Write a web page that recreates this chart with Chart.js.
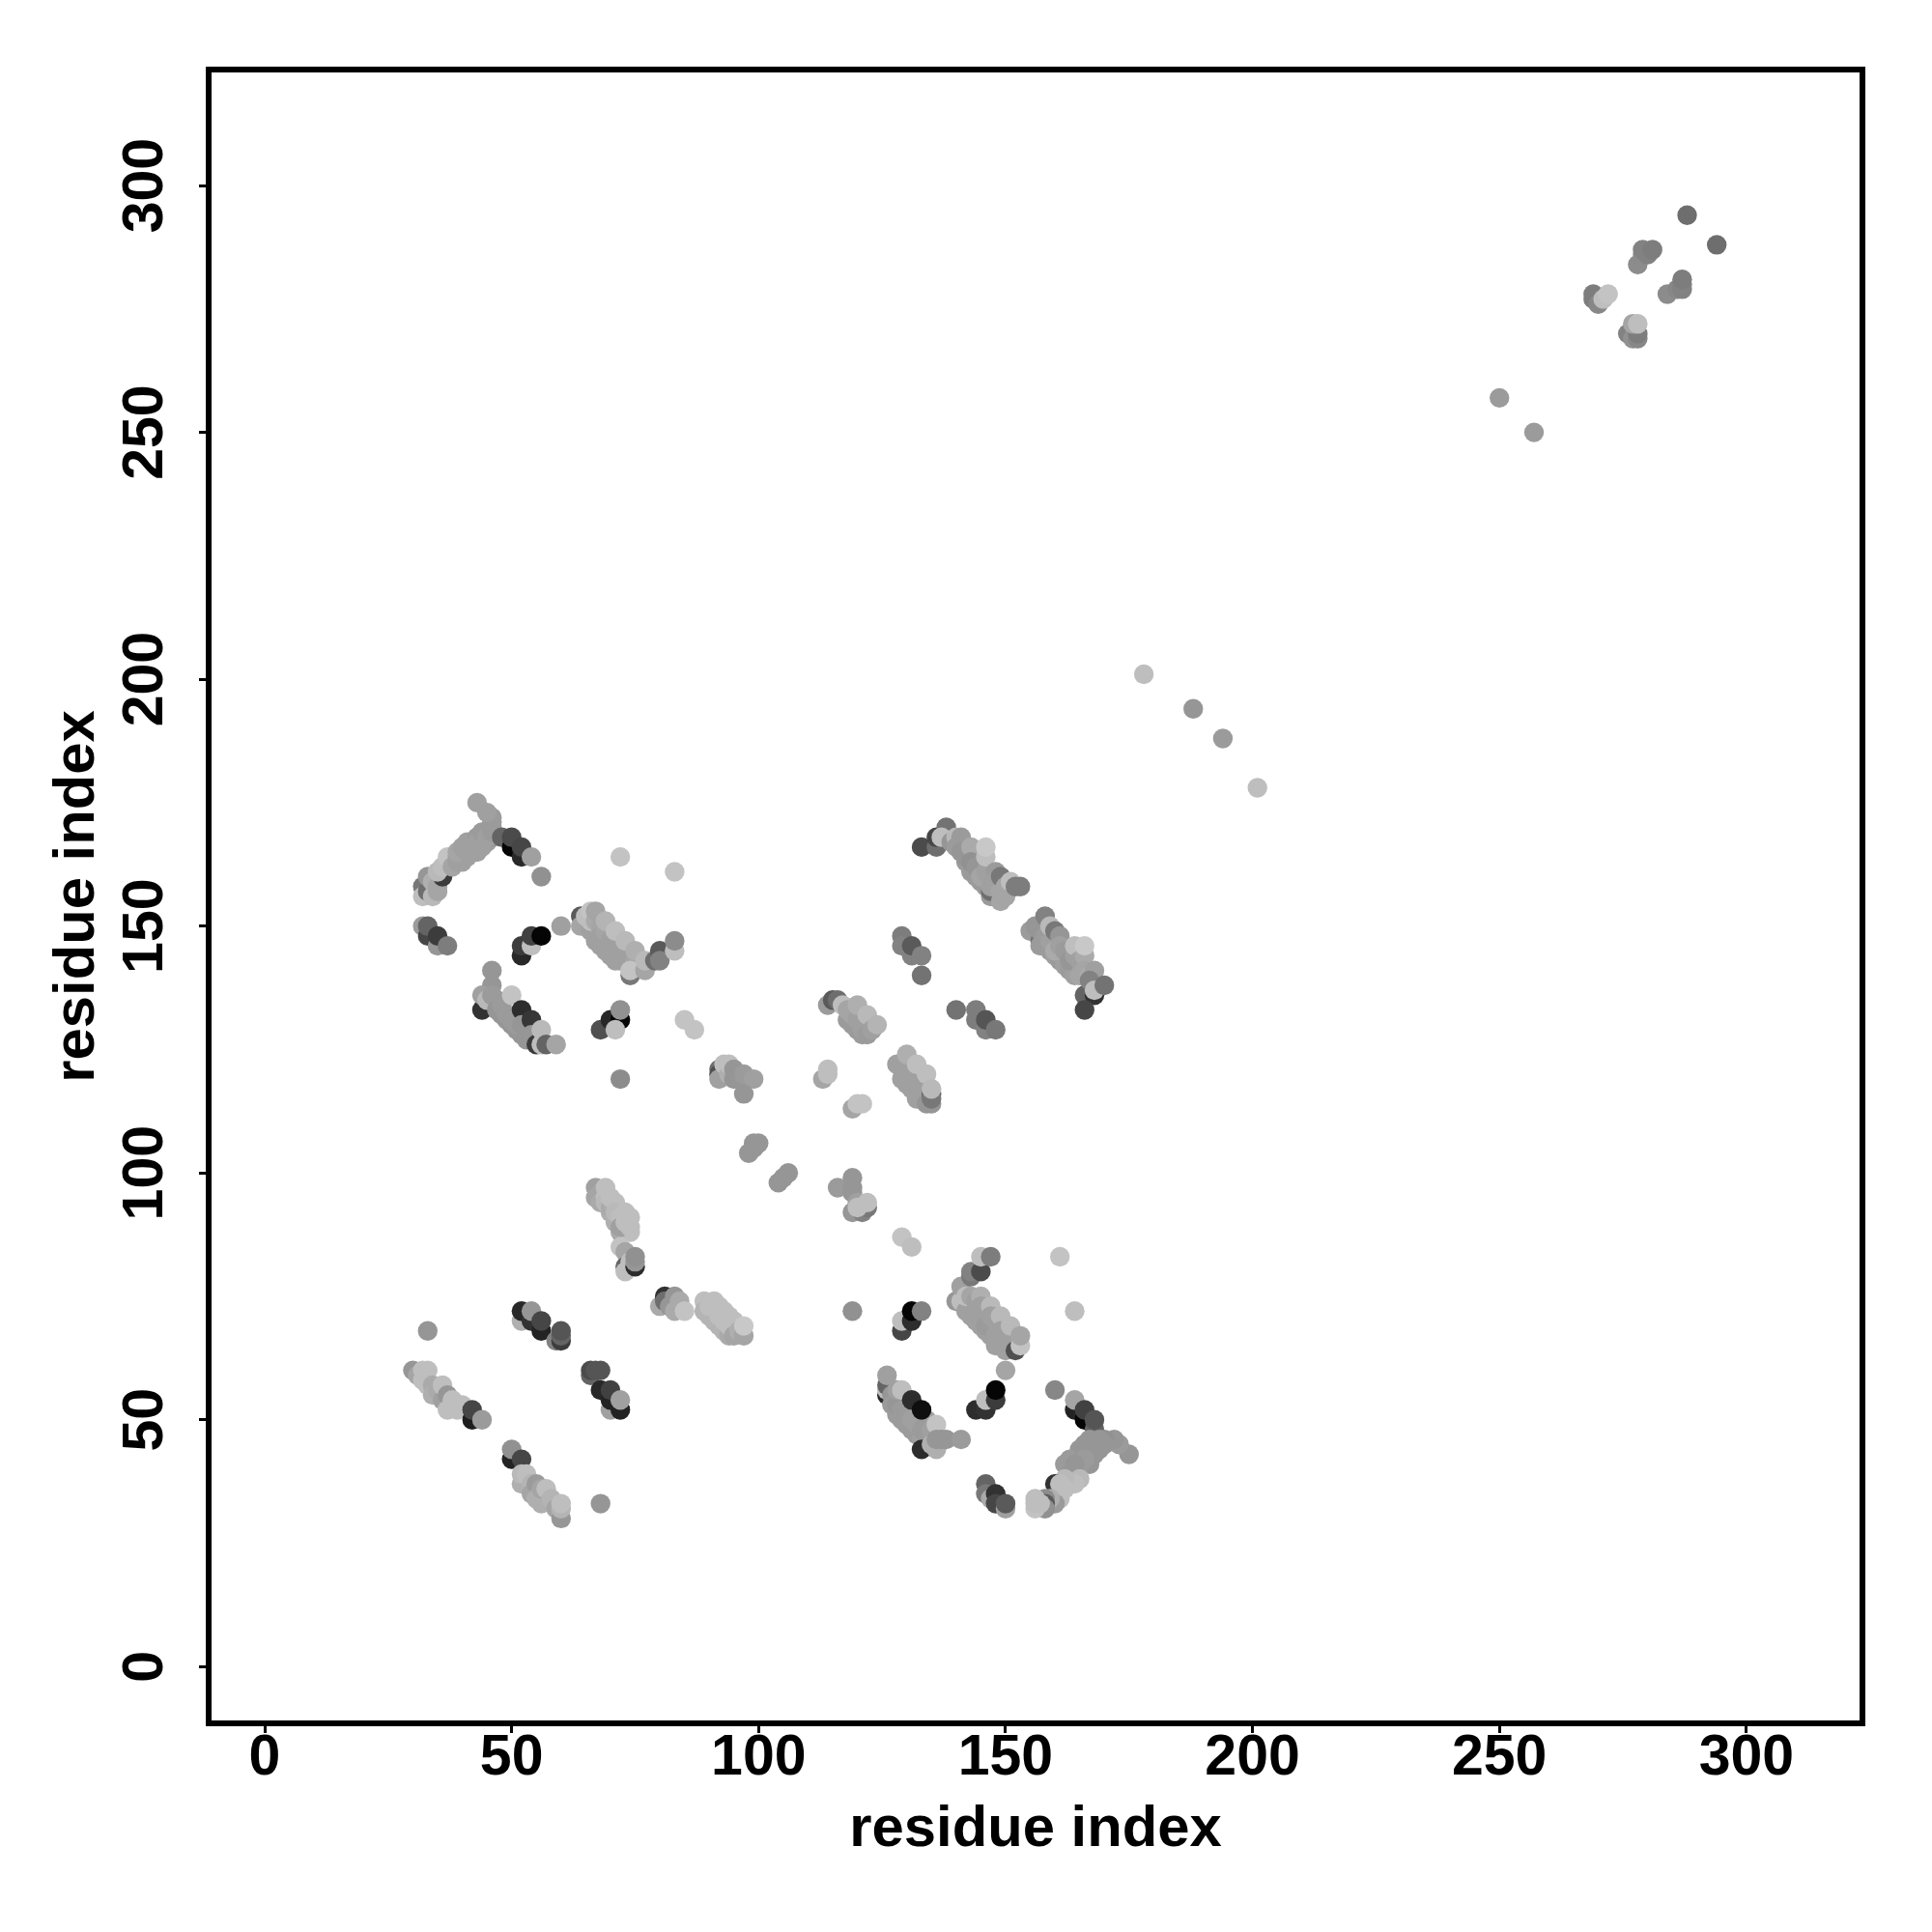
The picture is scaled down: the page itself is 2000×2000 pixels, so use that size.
<!DOCTYPE html>
<html>
<head>
<meta charset="utf-8">
<style>html,body{margin:0;padding:0;background:#fff}canvas{display:block}</style>
<script src="https://cdn.jsdelivr.net/npm/chart.js@4"></script>
</head>
<body>
<canvas id="c" width="2000" height="2000"></canvas>
<script>
// each contact: [residue x, residue y, grey level 0-255]
const tickValues = [0, 50, 100, 150, 200, 250, 300];
const axisTitle = "residue index";

const upperLeftBand = [[32,158,120],[32,156,190],[33,157,110],[34,156,185],[35,157,165],[33,160,150],[34,159,175],[35,158,165],[36,160,60],[35,161,185],[36,162,190],[37,163,190],[38,164,190],[37,164,195],[38,162,165],[39,163,160],[40,163,160],[41,164,160],[42,165,160],[43,165,160],[44,166,160],[45,167,160],[46,168,150],[39,164,160],[39,165,165],[40,166,160],[41,165,160],[41,167,160],[42,166,160],[43,168,155],[43,167,160],[44,167,160],[44,169,155],[45,168,160],[46,169,155],[46,170,155],[46,171,155],[46,172,155],[45,173,160],[43,175,160]];
const upperLeftDark = [[48,168,100],[50,166,5],[50,168,75],[52,164,40],[52,166,70],[54,164,160],[56,160,145]];
const leftStub = [[32,150,155],[33,148,70],[33,150,100],[35,146,150],[35,148,60],[37,146,125]];
const midDark = [[52,144,40],[52,146,60],[54,146,190],[54,148,65],[56,148,5],[60,150,160],[72,164,195],[83,161,195]];
const bandB = [[64,152,90],[64,150,165],[65,152,190],[66,149,160],[67,147,160],[68,146,160],[69,145,160],[70,144,160],[71,143,160],[66,151,190],[66,153,195],[67,151,170],[67,153,165],[68,150,165],[68,148,160],[69,149,165],[69,151,180],[70,147,160],[71,146,160],[71,149,190],[72,145,160],[72,143,160],[73,144,160],[73,147,185],[74,142,160],[75,143,165],[75,145,175],[74,140,120],[74,141,195],[77,141,165],[77,143,185],[79,143,110],[80,145,90],[80,143,130],[83,145,190],[83,147,140]];
const bandC = [[46,141,150],[46,138,150],[44,133,50],[44,136,160],[45,135,185],[46,136,155],[47,135,155],[47,133,150],[48,132,150],[49,131,150],[50,130,150],[51,129,150],[52,128,150],[53,127,150],[48,134,155],[49,132,155],[50,136,195],[50,131,155],[51,130,155],[52,133,45],[52,130,150],[53,128,150],[54,131,55],[54,128,150],[55,126,60],[56,126,190],[56,129,185],[57,126,100],[59,126,165]];
const dotsD = [[68,129,80],[70,131,40],[72,131,5],[71,129,190],[72,133,145],[72,119,140],[85,131,195],[87,129,195]];
const clusterE = [[92,121,110],[92,120,80],[92,119,160],[93,122,190],[94,120,175],[94,122,190],[95,121,150],[95,119,150],[96,119,150],[97,120,155],[99,119,160],[97,116,150]];
const clusterF = [[114,134,155],[115,135,90],[116,135,110],[118,131,155],[119,130,155],[120,129,155],[121,128,155],[117,134,190],[118,133,165],[119,132,165],[120,131,160],[120,134,175],[121,130,160],[121,129,160],[122,128,155],[122,132,185],[123,129,160],[124,130,180]];
const clusterG = [[128,122,160],[129,121,160],[129,119,160],[130,118,160],[131,117,160],[132,115,160],[133,115,160],[130,120,160],[130,124,175],[131,119,160],[132,118,160],[132,122,190],[133,117,160],[134,116,160],[134,114,150],[135,114,150],[134,120,190],[135,116,90],[135,115,120],[135,117,185]];
const diagonalPairs = [[113,119,165],[114,120,190],[114,121,190],[119,113,165],[120,114,195],[121,114,195],[98,104,150],[99,105,150],[99,106,150],[100,106,150],[104,98,150],[105,99,150],[106,100,150]];
const clusterK = [[116,97,155],[119,99,150],[119,97,150],[119,96,150],[119,92,150],[120,94,160],[121,92,130],[122,93,120],[120,93,190],[122,94,190],[129,87,195],[131,85,190]];
const bandM = [[133,166,75],[136,166,110],[136,168,70],[138,170,115],[137,168,190],[139,167,150],[142,163,155],[143,161,155],[144,160,155],[145,159,155],[146,158,155],[147,156,155],[148,156,155],[140,168,185],[141,168,155],[140,166,155],[141,165,150],[142,164,150],[143,166,170],[143,163,145],[144,162,150],[145,160,165],[146,161,160],[146,164,190],[146,166,200],[147,157,110],[147,158,160],[148,161,155],[148,159,160],[149,155,165],[149,157,165],[149,160,120],[150,156,165],[150,158,165],[151,159,190],[152,158,125],[153,158,125]];
const bandN = [[155,149,155],[156,150,150],[157,147,115],[157,149,150],[157,146,155],[159,145,155],[160,144,160],[161,143,155],[162,142,160],[163,141,155],[164,140,160],[158,152,130],[158,148,155],[159,147,160],[159,150,185],[160,149,120],[160,145,170],[161,148,150],[161,146,160],[162,145,155],[163,143,150],[164,144,160],[164,146,190],[165,143,160],[165,140,165],[166,144,170],[166,146,200],[166,141,165],[167,140,170],[168,141,160],[166,136,100],[168,136,50],[167,139,130],[168,137,190],[170,138,115],[166,133,70]];
const smallUpper = [[129,148,125],[129,146,130],[131,144,130],[131,146,90],[133,144,130],[133,140,115],[140,133,115],[144,133,125],[144,131,125],[146,129,130],[146,131,85],[148,129,120]];

const bandO = [[67,97,160],[67,95,165],[68,96,165],[68,94,170],[70,92,175],[71,90,175],[72,88,170],[73,88,185],[74,88,190],[69,97,190],[69,95,190],[69,94,185],[70,93,170],[70,95,190],[71,94,190],[71,92,185],[72,91,190],[72,89,160],[73,92,190],[73,90,190],[74,91,190],[74,89,190]];
const clusterP = [[72,85,195],[73,84,165],[73,81,100],[73,80,190],[74,82,190],[75,81,45],[75,82,150],[75,83,145]];
const clusterQ = [[80,73,170],[81,75,50],[81,74,110],[82,73,150],[83,75,150],[83,72,170],[84,74,170],[85,72,195]];
const bandR = [[90,71,180],[91,70,180],[92,69,180],[93,68,180],[94,67,170],[89,74,190],[89,72,180],[90,73,190],[91,74,190],[92,71,190],[92,73,190],[93,72,190],[93,70,190],[94,71,190],[94,69,190],[95,70,190],[95,67,165],[96,68,175],[97,67,165],[97,69,200]];
const clusterS = [[52,70,175],[52,72,40],[54,70,50],[54,72,150],[56,68,35],[56,70,70],[59,66,130],[60,66,60],[60,67,100],[60,68,85],[33,68,150]];
const clusterT = [[66,59,100],[66,60,75],[67,60,85],[68,60,85],[68,56,40],[70,52,160],[70,54,35],[72,52,35],[70,56,65],[72,54,160]];
const bandU = [[30,60,150],[31,59,165],[32,60,190],[33,60,190],[32,58,190],[33,57,190],[34,57,170],[34,55,175],[35,56,170],[36,54,160],[36,57,190],[37,55,150],[37,52,190],[38,54,190],[38,53,190],[39,52,190],[40,53,190],[42,50,30],[42,52,70],[44,50,155]];
const bandV = [[50,42,35],[50,44,145],[52,42,70],[52,37,175],[52,39,185],[53,39,190],[54,37,180],[54,35,165],[55,37,155],[55,34,175],[56,33,175],[56,36,165],[57,36,190],[58,34,180],[59,32,165],[60,30,150],[60,32,180],[60,33,190],[68,33,150]];
const bandW = [[140,74,150],[141,74,190],[141,77,160],[142,72,160],[143,71,160],[144,70,160],[145,69,160],[146,68,160],[147,67,160],[148,65,160],[149,65,160],[150,66,160],[142,75,190],[143,79,120],[143,80,130],[143,75,165],[144,74,160],[145,75,175],[145,73,160],[146,72,160],[146,69,155],[147,73,185],[147,71,160],[148,70,160],[148,67,160],[149,71,185],[149,68,160],[150,64,160],[151,66,160],[151,69,185],[152,64,80],[153,65,195],[153,67,165],[145,80,75],[145,83,190],[147,83,125]];
const scatteredLower = [[161,83,195],[164,72,190],[150,60,165],[119,72,145],[129,68,70],[129,70,190],[131,70,45],[131,72,5],[133,72,130]];
const bandY = [[126,55,40],[126,56,190],[126,57,100],[126,59,160],[127,55,150],[127,53,155],[128,51,155],[129,50,155],[130,49,155],[131,48,155],[132,47,155],[133,46,160],[134,46,160],[135,47,160],[134,50,160],[128,53,150],[128,56,160],[129,56,190],[129,52,155],[130,51,155],[131,54,45],[131,50,160],[132,49,160],[133,52,15],[133,48,155],[134,47,155],[135,48,160],[136,49,195],[133,44,45],[136,44,175],[135,45,175],[136,46,150],[137,46,150],[138,46,150],[141,46,155]];
const clusterZ = [[144,52,45],[146,52,50],[146,54,190],[148,54,60],[148,56,5],[160,56,135]];
const clusterAA = [[164,52,35],[164,54,165],[166,50,5],[166,52,65],[168,48,100],[168,50,85]];
const bandAB = [[175,43,150],[173,45,155],[172,46,150],[170,46,145],[170,45,150],[169,46,150],[169,44,150],[168,45,150],[168,43,150],[167,46,150],[166,45,150],[165,44,150],[163,42,155],[162,41,155],[167,43,150],[166,43,150],[167,41,150],[166,42,155],[165,41,155],[164,41,150],[163,39,150],[165,38,185],[164,37,190],[163,37,190],[162,38,185],[160,37,50],[161,37,190],[162,36,190],[161,34,190],[160,33,155],[159,34,175],[158,34,140],[158,33,90],[158,32,145],[156,32,195],[156,33,190],[156,34,190],[157,33,190]];
const clusterAC = [[146,37,100],[146,35,120],[147,34,170],[148,35,50],[148,33,70],[150,32,160],[150,33,90]];
const distant = [[250,257,155],[257,250,155],[178,201,190],[188,194,150],[194,188,155],[201,178,190],[288,294,110],[294,288,110]];
const upperRight = [[269,278,125],[269,277,125],[270,276,135],[271,277,190],[272,278,195],[276,270,130],[277,269,145],[278,269,135],[278,270,125],[277,272,165],[278,272,190],[278,284,140],[279,286,140],[279,287,130],[280,286,130],[281,287,125],[284,278,140],[286,279,135],[287,279,130],[287,280,130],[287,281,125]];

const contacts = [].concat(upperLeftBand, upperLeftDark, leftStub, midDark, bandB, bandC, dotsD, clusterE, clusterF, clusterG, diagonalPairs, clusterK, bandM, bandN, smallUpper, bandO, clusterP, clusterQ, bandR, clusterS, clusterT, bandU, bandV, bandW, scatteredLower, bandY, clusterZ, clusterAA, bandAB, clusterAC, distant, upperRight);

const frame = {
  id: "frame",
  afterDraw(chart) {
    const a = chart.chartArea, g = chart.ctx;
    g.save();
    g.strokeStyle = "#000";
    g.lineWidth = 6;
    g.lineJoin = "miter";
    g.strokeRect(a.left, a.top, a.right - a.left, a.bottom - a.top);
    g.restore();
  }
};

const font = {family: "'Liberation Sans', Arial, sans-serif", weight: "bold", size: 59};
const titleFont = {family: "'Liberation Sans', Arial, sans-serif", weight: "bold", size: 59.8, lineHeight: 1};
function setTicks(scale) { scale.ticks = tickValues.map(v => ({value: v})); }
const baseGrid = {display: true, drawOnChartArea: false, drawTicks: true, tickLength: 10, tickWidth: 3, tickColor: "#000"};

new Chart(document.getElementById("c"), {
  type: "scatter",
  data: {datasets: [{
    data: contacts.map(c => ({x: c[0], y: c[1]})),
    backgroundColor: contacts.map(c => `rgb(${c[2]},${c[2]},${c[2]})`),
    borderWidth: 0,
    pointRadius: 10.2,
    pointHoverRadius: 10.2
  }]},
  options: {
    responsive: false,
    animation: false,
    devicePixelRatio: 1,
    layout: {padding: {top: 72, right: 72, left: 0, bottom: 0}},
    plugins: {legend: {display: false}, tooltip: {enabled: false}},
    scales: {
      x: {
        type: "linear", position: "bottom", min: -11.35, max: 323.5,
        afterBuildTicks: setTicks,
        afterFit(s) { s.height = 216; },
        border: {display: false},
        grid: baseGrid,
        ticks: {color: "#000", font, padding: -8.5, autoSkip: false, maxRotation: 0, minRotation: 0, includeBounds: false},
        title: {display: true, text: axisTitle, color: "#000", font: titleFont, padding: {top: 0, bottom: 76}}
      },
      y: {
        type: "linear", position: "left", min: -11.5, max: 323.5,
        afterBuildTicks: setTicks,
        afterFit(s) { s.width = 216; },
        border: {display: false},
        grid: baseGrid,
        ticks: {color: "#000", font, padding: 5, autoSkip: false, minRotation: 90, maxRotation: 90, crossAlign: "center", includeBounds: false},
        title: {display: true, text: axisTitle, color: "#000", font: titleFont, padding: {top: 50.5, bottom: 0}}
      }
    }
  },
  plugins: [frame]
});
</script>
</body>
</html>
